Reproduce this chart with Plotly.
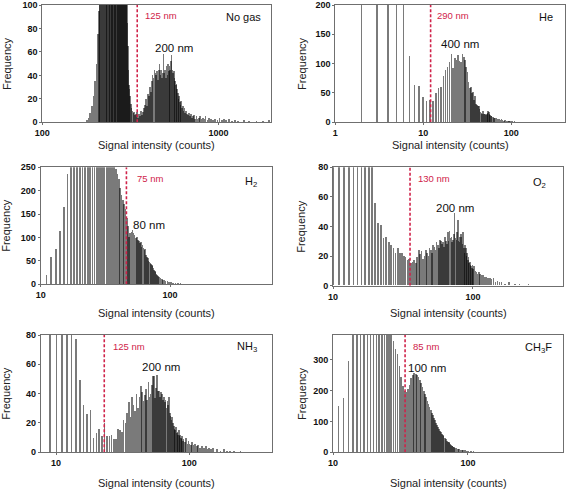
import plotly.graph_objects as go

W, H = 567, 491

# ---------------- data ----------------
nogas_counts = [180, 184, 188, 192, 196, 200, 204, 208, 211,
                212, 214, 216, 218, 220, 222, 224, 226, 228, 230, 232, 234, 236, 238, 240, 242,
                244, 246, 248, 250, 252, 254, 256, 258, 260, 262, 264, 266, 268, 270, 272, 274,
                276, 278, 280, 282, 284, 286, 288, 290, 292, 294, 296, 298, 300, 302, 304,
                306, 308, 310, 312, 314, 317, 320, 323, 326, 330, 334, 338, 342, 346, 350, 355,
                360, 365, 370, 375, 380, 385, 390, 395, 400, 405, 410, 415, 420, 425, 430, 435,
                440, 445, 450, 455, 460, 465, 470, 475, 480, 485, 490, 495, 500, 505, 510, 515,
                520, 525, 530, 535, 540, 545, 550, 555, 560, 565, 570, 575, 580, 585, 590, 595,
                600, 606, 612, 618, 624, 630, 637, 644, 651, 658, 665, 673, 681, 690, 700, 710,
                720, 730, 740, 752, 764, 776, 790, 805, 820, 835, 850, 870, 890, 910, 935, 960,
                990, 1020, 1050, 1080, 1110, 1150, 1200, 1250, 1300, 1400, 1500, 1650, 1800, 1950]
nogas_freq = [2, 4, 8, 14, 22, 35, 50, 75, 95,
              130, 160, 190, 220, 250, 270, 290, 300, 310, 320, 330, 335, 340, 340, 335, 330,
              325, 320, 310, 300, 295, 290, 280, 270, 260, 250, 240, 230, 220, 210, 200, 190,
              180, 170, 160, 150, 145, 140, 135, 130, 125, 120, 115, 110, 108, 105, 102,
              85, 65, 45, 32, 28, 22, 16, 12, 10, 8, 9, 6, 7, 9, 4, 7,
              5, 10, 6, 9, 12, 15, 20, 14, 24, 22, 30, 26, 35, 40, 38, 45,
              42, 40, 44, 36, 45, 50, 40, 45, 38, 42, 58, 42, 45, 38, 48, 40,
              50, 44, 48, 45, 52, 57, 45, 42, 44, 38, 35, 32, 33, 28, 25, 20,
              22, 17, 15, 18, 12, 14, 10, 12, 8, 10, 7, 6, 8, 5, 7, 4,
              5, 6, 3, 5, 3, 4, 5, 3, 4, 3, 5, 2, 4, 3, 2, 3,
              2, 4, 2, 3, 2, 3, 1, 2, 1, 2, 1, 1, 1, 2]

he_counts = [2, 3, 4, 5, 6, 7, 8, 9, 10, 11, 12, 13, 14, 15, 16, 17, 18, 19, 20,
             21, 22, 23, 24, 25, 26, 27, 28, 29, 30, 31, 32, 33, 34, 35, 36, 37, 38, 39, 40,
             41, 42, 43, 44, 45, 46, 47, 48, 49, 50, 51, 52, 53, 54, 55, 56, 57, 58, 59, 60,
             62, 64, 66, 68, 70, 72, 74, 76, 78, 80, 83, 86, 89, 92, 95, 98, 102, 106, 110, 115, 119]
he_freq = [850, 620, 480, 390, 300, 113, 64, 62, 43, 37, 38, 36, 50, 58, 60, 79, 90, 95, 102,
           117, 92, 110, 106, 115, 105, 102, 117, 112, 106, 95, 86, 69, 58, 61, 50, 52, 38, 44, 32,
           30, 27, 28, 22, 18, 16, 15, 20, 14, 15, 14, 12, 14, 16, 20, 18, 15, 12, 11, 10,
           9, 8, 7, 8, 6, 5, 6, 4, 5, 4, 3, 4, 3, 2, 3, 2, 2, 1, 2, 1, 1]

h2_counts = [11, 12, 13, 14, 15, 16, 17, 18, 19, 20, 21, 22, 23, 24, 25, 26, 27, 28, 29, 30,
             31, 32, 33, 34, 35, 36, 37, 38, 39, 40, 41, 42, 43, 44, 45, 46, 47, 48, 49, 50,
             51, 52, 53, 54, 55, 56, 57, 58, 59, 60, 61, 62, 63, 64, 65, 66, 67, 68, 69, 70,
             71, 72, 73, 74, 75, 76, 77, 78, 79, 80, 82, 84, 86, 88, 90, 92, 95, 98, 101, 105,
             110, 115, 120, 130, 140, 150]
h2_freq = [20, 58, 75, 113, 164, 235, 300, 360, 420, 470, 500, 520, 530, 520, 505, 480, 460, 430, 400, 380,
           355, 330, 310, 290, 275, 262, 252, 245, 235, 225, 205, 190, 180, 172, 160, 140, 125, 100, 110, 112,
           116, 108, 105, 98, 100, 95, 92, 88, 90, 80, 84, 76, 72, 75, 62, 58, 55, 50, 48, 45,
           42, 40, 38, 35, 30, 28, 25, 22, 20, 17, 15, 12, 10, 9, 8, 7, 6, 5, 4, 3,
           3, 2, 2, 1, 1, 1]

o2_counts = [10, 11, 12, 13, 14, 15, 16, 17, 18, 19, 20, 21, 22, 23, 24, 25, 26, 27, 28, 29,
             30, 31, 32, 33, 34, 35, 36, 37, 38, 39, 40, 41, 42, 43, 44, 45, 46, 47, 48, 49,
             50, 51, 52, 53, 54, 55, 56, 57, 58, 59, 60, 61, 62, 63, 64, 65, 66, 67, 68, 69,
             70, 71, 72, 73, 74, 75, 76, 77, 78, 79, 80, 81, 82, 83, 84, 85, 86, 87, 88, 89,
             90, 91, 92, 93, 94, 95, 96, 97, 98, 99, 100, 102, 104, 106, 108, 110, 112, 115, 118, 121,
             124, 128, 132, 136, 140, 145, 150, 155, 160, 170, 180, 200, 215, 250]
o2_freq = [600, 480, 380, 300, 240, 190, 150, 120, 100, 85, 56, 42, 41, 32, 33, 29, 27, 25, 22, 25,
           22, 22, 20, 19, 17, 18, 15, 16, 17, 15, 19, 24, 21, 23, 18, 20, 24, 22, 20, 25,
           24, 22, 27, 26, 24, 29, 27, 25, 31, 30, 28, 29, 26, 33, 30, 28, 36, 30, 37, 32,
           33, 29, 31, 35, 49, 32, 31, 36, 44, 30, 29, 33, 35, 33, 28, 36, 25, 22, 27, 25,
           20, 22, 17, 19, 15, 16, 14, 13, 12, 14, 11, 13, 10, 9, 8, 9, 8, 7, 7, 6,
           6, 5, 5, 4, 5, 2, 3, 2, 2, 1, 2, 1, 1, 1]

nh3_counts = [9, 10, 11, 12, 13, 14, 15, 16, 17, 18, 19, 20, 21, 22, 23, 24, 25, 26, 27, 28,
              29, 30, 31, 32, 33, 34, 35, 36, 37, 38, 39, 40, 41, 42, 43, 44, 45, 46, 47, 48,
              49, 50, 51, 52, 53, 54, 55, 56, 57, 58, 59, 60, 61, 62, 63, 64, 65, 66, 67, 68,
              69, 70, 71, 72, 73, 74, 75, 76, 77, 78, 79, 80, 81, 82, 83, 84, 85, 86, 87, 88,
              89, 90, 92, 94, 96, 98, 100, 102, 104, 107, 110, 113, 116, 120, 124, 128, 132, 136, 140, 145,
              150, 160, 170, 180, 190, 200, 215, 240]
nh3_freq = [400, 300, 220, 160, 110, 77, 49, 32, 26, 29, 10, 13, 16, 11, 20, 11, 11, 12, 9, 9,
            16, 15, 14, 22, 20, 27, 34, 24, 38, 32, 28, 40, 30, 38, 45, 41, 35, 39, 43, 36,
            48, 38, 40, 46, 52, 52, 37, 44, 53, 42, 42, 38, 41, 40, 36, 38, 34, 36, 30, 35,
            32, 38, 27, 25, 22, 24, 20, 18, 16, 15, 17, 13, 14, 12, 15, 11, 12, 10, 9, 11,
            8, 9, 7, 10, 6, 8, 6, 5, 7, 5, 6, 4, 5, 3, 4, 3, 4, 2, 3, 2,
            3, 2, 1, 2, 1, 1, 1, 1]

ch3f_counts = [11, 12, 13, 14, 15, 16, 17, 18, 19, 20, 21, 22, 23, 24, 25, 26, 27, 28, 29, 30,
               31, 32, 33, 34, 35, 36, 37, 38, 39, 40, 41, 42, 43, 44, 45, 46, 47, 48, 49, 50,
               51, 52, 53, 54, 55, 56, 57, 58, 59, 60, 61, 62, 63, 64, 65, 66, 67, 68, 69, 70,
               71, 72, 73, 74, 75, 76, 77, 78, 79, 80, 82, 84, 86, 88, 90, 92, 95, 98, 101, 105,
               110, 115, 120, 125, 130, 140, 150, 170, 200]
ch3f_freq = [150, 178, 298, 420, 520, 600, 650, 680, 690, 670, 640, 600, 560, 520, 480, 440, 400, 360, 335, 320,
             280, 245, 215, 200, 195, 205, 218, 240, 250, 256, 254, 250, 244, 236, 225, 212, 200, 190, 180, 168,
             158, 148, 138, 128, 120, 112, 104, 96, 88, 82, 76, 70, 65, 60, 56, 52, 48, 45, 42, 38,
             35, 32, 29, 27, 24, 22, 20, 18, 16, 15, 13, 11, 10, 9, 8, 7, 6, 5, 4, 3,
             3, 2, 2, 1, 1, 1, 1, 1, 1]

threshold_counts = [346, 12.1, 46, 35.5, 23, 34.2]
threshold_labels = ["125 nm", "290 nm", "75 nm", "130 nm", "125 nm", "85 nm"]
peak_labels = ["200 nm", "400 nm", "80 nm", "200 nm", "200 nm", "100 nm"]
gas_labels = ["No gas", "He", "H<sub>2</sub>", "O<sub>2</sub>", "NH<sub>3</sub>", "CH<sub>3</sub>F"]
x_tick_values = [[100, 1000], [1, 10, 100], [10, 100], [10, 100], [10, 100], [10, 100]]
y_tick_step = [20, 50, 50, 20, 20, 100]
y_max = [100, 200, 250, 80, 80, 381]

series = [(nogas_counts, nogas_freq), (he_counts, he_freq), (h2_counts, h2_freq),
          (o2_counts, o2_freq), (nh3_counts, nh3_freq), (ch3f_counts, ch3f_freq)]

# ---------------- layout (pixel geometry) ----------------
boxes = [(42.3, 270.7, 5.0, 122.3), (335.3, 564.7, 5.0, 122.3),
         (40.7, 271.7, 167.3, 284.3), (333.0, 563.0, 167.3, 285.7),
         (40.7, 271.7, 335.0, 452.3), (333.0, 563.0, 335.0, 452.3)]
x_ranges_log = [(2.0, 3.297), (0.0, 2.606), (1.0, 2.786), (1.0, 2.643), (0.885, 2.6175), (1.0, 2.704)]
thr_label_pos = [(142.7, 15.7), (434.7, 15.7), (135.0, 178.3), (416.3, 178.3), (111.0, 346.0), (411.3, 346.0)]
gas_label_pos = [(243.3, 16.7), (546.3, 16.7), (250.7, 181.7), (539.0, 182.7), (246.7, 347.3), (538.3, 348.3)]
peak_label_pos = [(174.0, 47.7), (460.3, 44.3), (149.3, 225.0), (455.3, 208.3), (161.3, 366.7), (427.0, 367.7)]
xtitle_gap = [23, 23, 29, 27.6, 31, 31]
ytitle_gap = [36, 34, 34.7, 31.7, 34.7, 31.7]

BAR_PX = 1.6
BAR_COLOR = "rgba(0,0,0,0.52)"
RED = "#d0234a"
FRAME = "#6f6f6f"
FONT = "Liberation Sans"

fig = go.Figure()
annotations = []


def paper(px, py):
    return px / W, 1 - py / H


for i, (xs, ys) in enumerate(series):
    n = "" if i == 0 else str(i + 1)
    xa, ya = "x" + n, "y" + n
    x0, x1, y0, y1 = boxes[i]
    lo, hi = x_ranges_log[i]
    d = BAR_PX * (hi - lo) / (x1 - x0)
    k = 10 ** (d / 2) - 10 ** (-d / 2)
    fig.add_trace(go.Bar(x=xs, y=ys, width=[v * k for v in xs],
                         marker=dict(color=BAR_COLOR, line=dict(width=0)),
                         xaxis=xa, yaxis=ya, showlegend=False, hoverinfo="skip"))
    t = threshold_counts[i]
    fig.add_trace(go.Scatter(x=[t, t], y=[0, y_max[i]], mode="lines",
                             line=dict(color=RED, width=1.6, dash="3px,2px"),
                             xaxis=xa, yaxis=ya, showlegend=False, hoverinfo="skip"))

    xdom = [x0 / W, x1 / W]
    ydom = [1 - y1 / H, 1 - y0 / H]
    fig.layout["xaxis" + n] = dict(
        domain=xdom, anchor=ya, type="log", range=[lo, hi], automargin=False,
        tickvals=x_tick_values[i], ticktext=[str(v) for v in x_tick_values[i]],
        showgrid=False, zeroline=False, showline=True, mirror=True,
        linecolor=FRAME, linewidth=1, ticks="outside", ticklen=2, tickcolor=FRAME,
        tickfont=dict(family=FONT, size=9, color="#111", weight="bold"))
    fig.layout["yaxis" + n] = dict(
        domain=ydom, anchor=xa, range=[0, y_max[i]], dtick=y_tick_step[i], tick0=0,
        automargin=False,
        showgrid=False, zeroline=False, showline=True, mirror=True,
        linecolor=FRAME, linewidth=1, ticks="outside", ticklen=2, tickcolor=FRAME,
        tickfont=dict(family=FONT, size=9, color="#111", weight="bold"))

    # labels
    px, py = paper(*thr_label_pos[i])
    annotations.append(dict(x=px, y=py, xref="paper", yref="paper", text=threshold_labels[i],
                            showarrow=False, xanchor="left", yanchor="middle",
                            font=dict(family=FONT, size=9.5, color=RED)))
    px, py = paper(*gas_label_pos[i])
    annotations.append(dict(x=px, y=py, xref="paper", yref="paper", text=gas_labels[i],
                            showarrow=False, xanchor="center", yanchor="middle",
                            font=dict(family=FONT, size=11, color="#111")))
    px, py = paper(*peak_label_pos[i])
    annotations.append(dict(x=px, y=py, xref="paper", yref="paper", text=peak_labels[i],
                            showarrow=False, xanchor="center", yanchor="middle",
                            font=dict(family=FONT, size=11.5, color="#111")))
    # axis titles
    px, py = paper((x0 + x1) / 2, y1 + xtitle_gap[i])
    annotations.append(dict(x=px, y=py, xref="paper", yref="paper", text="Signal intensity (counts)",
                            showarrow=False, xanchor="center", yanchor="middle",
                            font=dict(family=FONT, size=11, color="#222")))
    px, py = paper(x0 - ytitle_gap[i], (y0 + y1) / 2)
    annotations.append(dict(x=px, y=py, xref="paper", yref="paper", text="Frequency",
                            showarrow=False, xanchor="center", yanchor="middle", textangle=-90,
                            font=dict(family=FONT, size=11, color="#222")))

fig.update_layout(width=W, height=H, margin=dict(l=0, r=0, t=0, b=0, autoexpand=False),
                  paper_bgcolor="white", plot_bgcolor="white", barmode="overlay",
                  bargap=0, annotations=annotations, showlegend=False)

fig.write_html("out.html", config={"displayModeBar": False},
               post_script="document.body.style.margin='0';document.body.style.overflow='hidden';")
